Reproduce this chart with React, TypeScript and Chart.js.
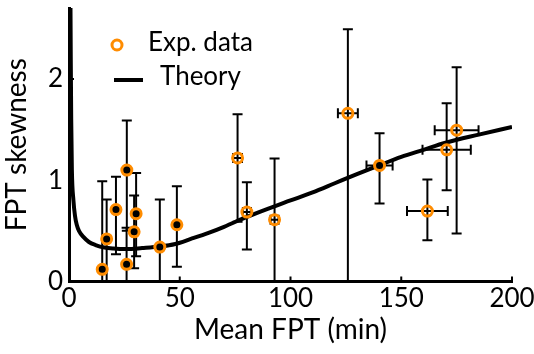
import { useEffect, useRef } from 'react';
import { Chart, registerables } from 'chart.js';
Chart.register(...registerables);

// Experimental data
const expX = [15.0, 17.0, 21.2, 26.1, 26.0, 30.3, 29.4, 41.0, 48.7, 76.1, 80.3, 92.8, 125.9, 140.2, 161.8, 170.5, 175.0];
const expY = [0.12, 0.42, 0.71, 1.10, 0.17, 0.67, 0.49, 0.34, 0.56, 1.22, 0.685, 0.61, 1.66, 1.146, 0.695, 1.30, 1.494];
const expYErrUp = [0.87, 0.39, 0.325, 0.49, 0.36, 0.40, 0.36, 0.47, 0.38, 0.43, 0.295, 0.605, 0.83, 0.318, 0.311, 0.46, 0.62];
const expYErrDown = [0.87, 0.5, 0.44, 0.6, 0.36, 0.42, 0.36, 0.47, 0.415, 0.63, 0.37, 0.7, 1.8, 0.376, 0.288, 0.40, 1.02];
const expXErr = [0, 0, 0, 0, 0, 0, 0, 0, 0, 2.0, 1.8, 1.8, 4.5, 5.9, 9.2, 10.9, 9.9];
const expFilled = [true, true, true, true, true, true, true, true, true, false, false, false, false, true, false, false, false];

// Theory curve
const theoryX = [0.6, 0.8, 1.0, 1.3, 2, 2.7, 3.5, 4.5, 6.5, 9, 12, 16, 20, 26, 33, 41, 48, 55, 63, 70, 80, 90, 100, 110, 120, 130, 140, 150, 160, 170, 185, 200];
const theoryY = [3.0, 2.2, 1.6, 1.1, 0.8, 0.65, 0.56, 0.5, 0.44, 0.39, 0.36, 0.335, 0.325, 0.32, 0.33, 0.345, 0.37, 0.42, 0.48, 0.54, 0.635, 0.72, 0.80, 0.88, 0.97, 1.06, 1.146, 1.23, 1.30, 1.37, 1.45, 1.525];

const xTicks = [0, 50, 100, 150, 200];
const yTicks = [0, 1, 2];

const ORANGE = '#ff8c00';
const FONT = 'Lato';

const errPlugin = {
  id: 'errbars',
  beforeDatasetsDraw(chart: any) {
    const { ctx, chartArea, scales } = chart;
    const x = scales.x, y = scales.y;
    ctx.save();
    ctx.beginPath();
    ctx.rect(chartArea.left, chartArea.top, chartArea.right - chartArea.left, chartArea.bottom - chartArea.top);
    ctx.clip();
    ctx.strokeStyle = '#000';
    ctx.lineWidth = 2;
    const cap = 5;
    for (let i = 0; i < expX.length; i++) {
      const px = x.getPixelForValue(expX[i]);
      const py = y.getPixelForValue(expY[i]);
      const yt = y.getPixelForValue(expY[i] + expYErrUp[i]);
      const yb = y.getPixelForValue(expY[i] - expYErrDown[i]);
      ctx.beginPath();
      ctx.moveTo(px, yt); ctx.lineTo(px, yb);
      ctx.moveTo(px - cap, yt); ctx.lineTo(px + cap, yt);
      ctx.moveTo(px - cap, yb); ctx.lineTo(px + cap, yb);
      if (expXErr[i] > 0) {
        const xl = x.getPixelForValue(expX[i] - expXErr[i]);
        const xr = x.getPixelForValue(expX[i] + expXErr[i]);
        ctx.moveTo(xl, py); ctx.lineTo(xr, py);
        ctx.moveTo(xl, py - cap); ctx.lineTo(xl, py + cap);
        ctx.moveTo(xr, py - cap); ctx.lineTo(xr, py + cap);
      }
      ctx.stroke();
    }
    ctx.restore();
  },
  afterDraw(chart: any) {
    const { ctx, chartArea, scales } = chart;
    const x = scales.x, y = scales.y;
    ctx.save();
    ctx.strokeStyle = '#000';
    ctx.lineWidth = 2;
    ctx.beginPath();
    for (const t of xTicks) {
      if (t === 0) continue;
      const px = x.getPixelForValue(t);
      ctx.moveTo(px, chartArea.bottom); ctx.lineTo(px, chartArea.bottom - 5);
    }
    for (const t of yTicks) {
      if (t === 0) continue;
      const py = y.getPixelForValue(t);
      ctx.moveTo(chartArea.left, py); ctx.lineTo(chartArea.left + 5, py);
    }
    ctx.stroke();
    // legend
    const lx = chartArea.left + 48;
    const ly1 = chartArea.top + 37;
    const ly2 = chartArea.top + 72;
    ctx.beginPath();
    ctx.arc(lx, ly1, 5, 0, Math.PI * 2);
    ctx.strokeStyle = ORANGE;
    ctx.lineWidth = 3;
    ctx.stroke();
    ctx.beginPath();
    ctx.strokeStyle = '#000';
    ctx.lineWidth = 4;
    ctx.moveTo(lx - 3, ly2); ctx.lineTo(lx + 26, ly2);
    ctx.stroke();
    ctx.fillStyle = '#000';
    ctx.font = `26px ${FONT}`;
    ctx.textBaseline = 'alphabetic';
    ctx.textAlign = 'left';
    ctx.fillText('Exp. data', lx + 31, ly1 + 6);
    ctx.fillText('Theory', lx + 43, ly2 + 5);
    ctx.restore();
  },
};

export default function App() {
  const ref = useRef<HTMLCanvasElement | null>(null);
  useEffect(() => {
    if (!ref.current) return;
    const chart = new Chart(ref.current, {
      type: 'scatter',
      data: {
        datasets: [
          {
            type: 'scatter',
            label: 'Exp. data',
            data: expX.map((v, i) => ({ x: v, y: expY[i] })),
            pointRadius: 5,
            pointBorderWidth: 3,
            pointBorderColor: ORANGE,
            pointBackgroundColor: expFilled.map((f) => (f ? '#000' : 'rgba(255,255,255,0)')),
            order: 0,
          },
          {
            type: 'line',
            label: 'Theory',
            data: theoryX.map((v, i) => ({ x: v, y: theoryY[i] })),
            borderColor: '#000',
            borderWidth: 4,
            pointRadius: 0,
            fill: false,
            cubicInterpolationMode: 'monotone',
            order: 1,
          } as any,
        ],
      },
      options: {
        animation: false,
        responsive: false,
        maintainAspectRatio: false,
        layout: { padding: { left: 0, right: 22, top: 5, bottom: 0 } },
        plugins: { legend: { display: false }, tooltip: { enabled: false } },
        scales: {
          x: {
            type: 'linear',
            min: 0,
            max: 200,
            grid: { display: false, drawTicks: false },
            border: { display: true, color: '#000', width: 3 },
            afterBuildTicks: (s: any) => { s.ticks = xTicks.map((v) => ({ value: v })); },
            afterFit: (s: any) => { s.height = 72.5; s.paddingLeft = 0; s.paddingRight = 0; },
            ticks: { color: '#000', font: { family: FONT, size: 26 }, padding: 2, maxRotation: 0 },
            title: { display: true, text: 'Mean FPT (min)', color: '#000', font: { family: FONT, size: 28 }, padding: { top: 0, bottom: 7 } },
          },
          y: {
            type: 'linear',
            min: 0,
            max: 2.7,
            grid: { display: false, drawTicks: false },
            border: { display: true, color: '#000', width: 3 },
            afterBuildTicks: (s: any) => { s.ticks = yTicks.map((v) => ({ value: v })); },
            afterFit: (s: any) => { s.width = 69; s.paddingTop = 0; s.paddingBottom = 0; },
            ticks: { color: '#000', font: { family: FONT, size: 26 }, padding: 6 },
            title: { display: true, text: 'FPT skewness', color: '#000', font: { family: FONT, size: 28 }, padding: { top: 0, bottom: 14 } },
          },
        },
      },
      plugins: [errPlugin],
    });
    return () => chart.destroy();
  }, []);
  return (
    <div style={{ position: 'fixed', left: 0, top: 0, width: 534, height: 354, background: '#fff' }}>
      <canvas ref={ref} width={534} height={354} style={{ width: 534, height: 354 }} />
    </div>
  );
}
